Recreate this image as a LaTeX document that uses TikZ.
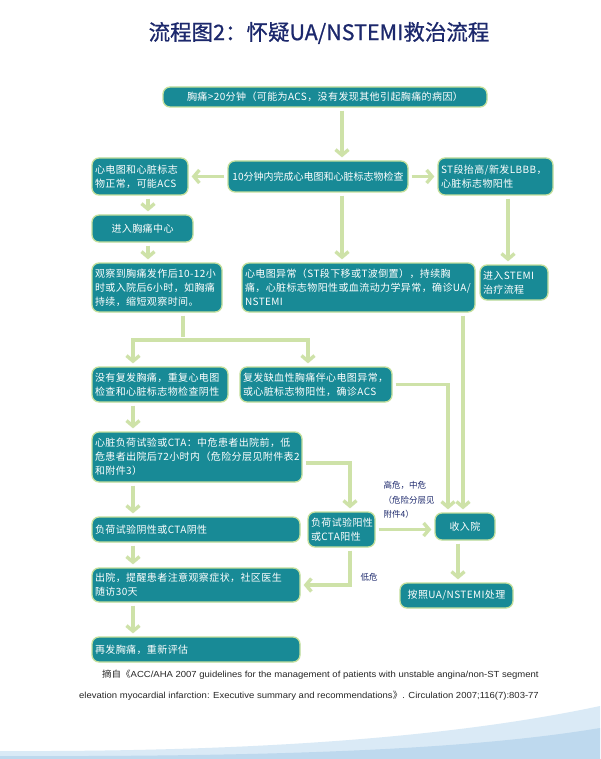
\documentclass[tikz,border=0pt]{standalone}
\usepackage{fontspec}
\setmainfont{Liberation Sans}
\newfontfamily\cjk{Noto Sans CJK SC}
\newfontfamily\cjkbox[LetterSpace=4]{Noto Sans CJK SC}
\newfontfamily\cjktitle[FakeBold=0.8]{Noto Sans CJK SC}
\usetikzlibrary{arrows.meta,calc}
\definecolor{boxteal}{RGB}{24,138,150}
\definecolor{boxedge}{RGB}{196,224,156}
\definecolor{flowgreen}{RGB}{206,226,168}
\definecolor{navy}{RGB}{28,40,108}
\definecolor{swooshA}{RGB}{218,234,246}
\definecolor{swooshB}{RGB}{190,217,238}
\tikzset{
  box/.style={draw=boxedge, line width=1.3pt, fill=boxteal, rounded corners=7pt,
    text=white, font=\cjkbox\fontsize{10}{14}\selectfont, inner xsep=3pt, inner ysep=2pt, align=left},
  cbox/.style={box, align=center},
  flow/.style={draw=flowgreen, line width=3.4pt, line join=miter,
    -{Straight Barb[length=5.5pt,width=13pt]}, shorten >=3pt, shorten <=3pt},
  lbl/.style={text=navy, font=\cjk\fontsize{8.5}{14.5}\selectfont, align=left}
}
\begin{document}
\begin{tikzpicture}[x=1pt,y=-1pt]
\useasboundingbox (0,0) rectangle (600,759);
\fill[white] (0,0) rectangle (600,759);
% bottom swoosh
\fill[swooshA] (0,759) -- (0,751) .. controls (250,752) and (450,738) .. (600,706) -- (600,759) -- cycle;
\fill[swooshB] (0,759) -- (0,756) .. controls (300,757) and (480,748) .. (600,728) -- (600,759) -- cycle;

% title
\node[text=navy, font=\cjktitle\fontsize{21.5}{24}\selectfont] (title) at (319,33) {流程图2：怀疑UA/NSTEMI救治流程};

% helper coordinates
\coordinate (x133) at (133,0);
\coordinate (x148) at (148,0);
\coordinate (x183) at (183,0);
\coordinate (x308) at (308,0);
\coordinate (x342) at (342,0);
\coordinate (x350) at (350,0);
\coordinate (x448) at (448,0);
\coordinate (x458) at (458,0);
\coordinate (x463) at (463,0);
\coordinate (x508) at (508,0);
\coordinate (y463) at (0,463);
\coordinate (split) at (183,340);

% boxes
\node[cbox, text width=318pt, minimum height=20pt] (b1) at (325,97) {胸痛>20分钟（可能为ACS，没有发现其他引起胸痛的病因）};
\node[cbox, text width=178pt, minimum height=31pt, inner xsep=1pt, font=\cjk\fontsize{10}{14}\selectfont] (b2) at (318,176.5) {10分钟内完成心电图和心脏标志物检查};
\node[box, text width=90pt, minimum height=37pt] (bL) at (140,176.5) {心电图和心脏标志\\物正常，可能ACS};
\node[box, text width=109pt, minimum height=37pt] (bR) at (495.5,176.5) {ST段抬高/新发LBBB，\\心脏标志物阳性};
\node[cbox, text width=95pt, minimum height=27pt] (bC) at (142.5,228.5) {进入胸痛中心};
\node[box, text width=124pt, minimum height=49pt] (bObs) at (157,287.5) {观察到胸痛发作后10-12小\\时或入院后6小时，如胸痛\\持续，缩短观察时间。};
\node[box, text width=227pt, minimum height=49pt] (bMid) at (358.5,287.5) {心电图异常（ST段下移或T波倒置），持续胸\\痛，心脏标志物阳性或血流动力学异常，确诊UA/\\NSTEMI};
\node[box, text width=62pt, minimum height=35pt] (bSTEMI) at (514,282.5) {进入STEMI\\治疗流程};
\node[box, text width=130pt, minimum height=35pt] (bNo) at (160,384.5) {没有复发胸痛，重复心电图\\检查和心脏标志物检查阴性};
\node[box, text width=146pt, minimum height=35pt] (bACS) at (316,384.5) {复发缺血性胸痛伴心电图异常，\\或心脏标志物阳性，确诊ACS};
\node[box, text width=204pt, minimum height=50pt] (bLoad) at (197,457) {心脏负荷试验或CTA：中危患者出院前，低\\危患者出院后72小时内（危险分层见附件表2\\和附件3）};
\node[box, text width=202pt, minimum height=25pt] (bNeg) at (196,529.5) {负荷试验阴性或CTA阴性};
\node[box, text width=202pt, minimum height=34pt] (bDis) at (196,585) {出院，提醒患者注意观察症状，社区医生\\随访30天};
\node[box, text width=202pt, minimum height=25pt] (bRe) at (196,649.5) {再发胸痛，重新评估};
\node[box, text width=61pt, minimum height=35pt] (bPos) at (341.5,529.5) {负荷试验阳性\\或CTA阳性};
\node[cbox, text width=54pt, minimum height=27pt] (bAdm) at (465,526.5) {收入院};
\node[cbox, text width=107pt, minimum height=25pt] (bTreat) at (456.5,595.5) {按照UA/NSTEMI处理};

% labels
\node[lbl, anchor=north west] (lHigh) at (380,478) {高危，中危\\（危险分层见\\附件4）};
\node[lbl, anchor=west] (lLow) at (357,577) {低危};

% connectors
\draw[flow] (b1.south -| x342) -- (b2.north -| x342);
\draw[flow] (b2.west) -- (bL.east);
\draw[flow] (b2.east) -- (bR.west);
\draw[flow] (bL.south -| x148) -- (bC.north -| x148);
\draw[flow] (bC.south -| x148) -- (bObs.north -| x148);
\draw[flow] (b2.south -| x342) -- (bMid.north -| x342);
\draw[flow] (bR.south -| x508) -- (bSTEMI.north -| x508);
\draw[flow, -] (bObs.south -| x183) -- (split);
\draw[flow, shorten <=0pt] (split) -| (bNo.north -| x133);
\draw[flow, shorten <=0pt] (split) -| (bACS.north -| x308);
\draw[flow] (bACS.east) -| (bAdm.north -| x448);
\draw[flow] (bMid.south -| x463) -- (bAdm.north -| x463);
\draw[flow] (bNo.south -| x133) -- (bLoad.north -| x133);
\draw[flow] (bLoad.east |- y463) -| (bPos.north -| x350);
\draw[flow] (bPos.east) -- (bPos.east -| bAdm.west);
\draw[flow] (bAdm.south -| x458) -- (bTreat.north -| x458);
\draw[flow] (bPos.south -| x350) |- (bDis.east);
\draw[flow] (bLoad.south -| x133) -- (bNeg.north -| x133);
\draw[flow] (bNeg.south -| x133) -- (bDis.north -| x133);
\draw[flow] (bDis.south -| x133) -- (bRe.north -| x133);

% citation
\node[anchor=west, font=\fontsize{8.8}{10}\selectfont, text=black!85, inner sep=0pt] (cite1) at (102,675) {\scalebox{1.08}[1]{{\cjk 摘自《}ACC/AHA 2007 guidelines for the management of patients with unstable angina/non-ST segment}};
\node[anchor=west, font=\fontsize{8.8}{10}\selectfont, text=black!85, inner sep=0pt] (cite2) at (79,696) {\scalebox{1.08}[1]{elevation myocardial infarction: Executive summary and recommendations{\cjk 》}. Circulation 2007;116(7):803-77}};
\end{tikzpicture}
\end{document}
